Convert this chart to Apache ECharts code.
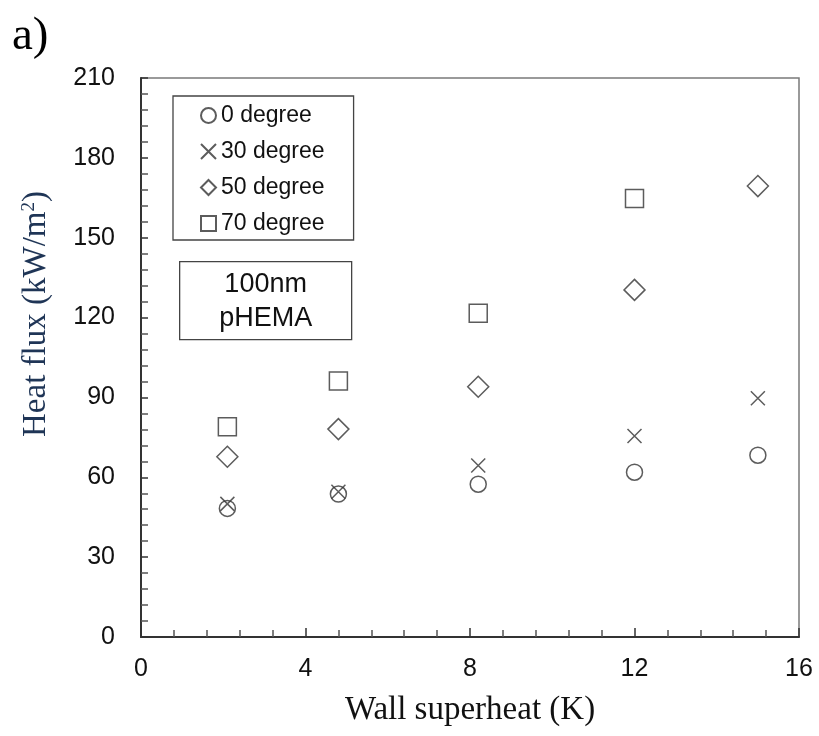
<!DOCTYPE html>
<html>
<head>
<meta charset="utf-8">
<script src="https://cdn.jsdelivr.net/npm/echarts@6/dist/echarts.min.js"></script>
<style>
  html, body { margin: 0; padding: 0; background: #fff; }
  #chart { width: 819px; height: 736px; }
</style>
</head>
<body>
<div id="chart"></div>
<script>
// Wall superheat (K) at each measurement
const superheat = [2.1, 4.8, 8.2, 12, 15];

// Heat flux (kW/m2) for each inclination angle
const flux0 = [48.3, 53.7, 57.4, 61.9, 68.3];
const flux30 = [50.0, 54.6, 64.4, 75.5, 89.7];
const flux50 = [67.7, 78.1, 94.0, 130.4, 169.4];
const flux70 = [79.0, 96.2, 121.6, 164.7];

const seriesNames = ['0 degree', '30 degree', '50 degree', '70 degree'];
const yTicks = [0, 30, 60, 90, 120, 150, 180, 210];
const xTicks = [0, 4, 8, 12, 16];

const pairs = (xs, ys) => ys.map((y, i) => [xs[i], y]);

const ink = '#333';
const crossPath = 'path://M0,0L10,10M10,0L0,10';

function hollow(name, data, symbol, size) {
  return {
    name: name,
    type: 'scatter',
    data: data,
    symbol: symbol,
    symbolSize: size,
    itemStyle: { color: 'rgba(255,255,255,0)', borderColor: ink, borderWidth: 1.5 },
    emphasis: { disabled: true },
    z: 3
  };
}

const chart = echarts.init(document.getElementById('chart'), null, { renderer: 'canvas' });

chart.setOption({
  animation: false,
  backgroundColor: '#fff',
  grid: {
    left: 141, right: 20, top: 78, bottom: 99,
    show: true, borderColor: '#7a7a7a', borderWidth: 1.5, backgroundColor: '#fff'
  },
  xAxis: {
    type: 'value',
    min: xTicks[0], max: xTicks[xTicks.length - 1], interval: 4,
    name: 'Wall superheat (K)',
    nameLocation: 'middle',
    nameGap: 57,
    nameTextStyle: { fontFamily: 'Liberation Serif', fontSize: 33, color: '#111' },
    axisLine: { show: true, lineStyle: { color: '#333', width: 2 } },
    axisTick: { show: true, inside: true, length: 9, lineStyle: { color: '#333', width: 1.5 } },
    minorTick: { show: true, splitNumber: 5, length: 7, lineStyle: { color: '#555', width: 1.5 } },
    axisLabel: { fontFamily: 'Liberation Sans', fontSize: 25, color: '#111', margin: 20 },
    splitLine: { show: false }
  },
  yAxis: {
    type: 'value',
    min: yTicks[0], max: yTicks[yTicks.length - 1], interval: 30,
    axisLine: { show: true, lineStyle: { color: '#333', width: 2 } },
    axisTick: { show: true, inside: true, length: 7, lineStyle: { color: '#333', width: 1.5 } },
    minorTick: { show: true, splitNumber: 5, length: 7, lineStyle: { color: '#555', width: 1.5 } },
    axisLabel: { fontFamily: 'Liberation Sans', fontSize: 25, color: '#111', margin: 26 },
    splitLine: { show: false }
  },
  legend: {
    orient: 'vertical',
    left: 173, top: 96,
    padding: [8, 29, 5, 27],
    itemGap: 13,
    itemWidth: 15, itemHeight: 15,
    itemTextGap: 5,
    borderColor: '#444', borderWidth: 1.3,
    backgroundColor: '#fff',
    selectedMode: false,
    textStyle: { fontFamily: 'Liberation Sans', fontSize: 23, color: '#111' },
    data: seriesNames
  },
  graphic: [
    {
      type: 'text', left: 12, top: 13,
      style: { text: 'a)', font: '47px "Liberation Serif"', fill: '#000' }
    },
    {
      type: 'text',
      x: 36, y: 314,
      rotation: Math.PI / 2,
      style: {
        text: '{t|Heat flux (kW/m}{s|2}{t|)}',
        align: 'center', verticalAlign: 'middle',
        rich: {
          t: { fontFamily: 'Liberation Serif', fontSize: 33, fill: '#1f3556' },
          s: { fontFamily: 'Liberation Serif', fontSize: 19, fill: '#1f3556', verticalAlign: 'top', padding: [0, 0, 12, 0] }
        }
      }
    },
    {
      type: 'group', left: 179, top: 261,
      children: [
        {
          type: 'rect', shape: { x: 0, y: 0, width: 172, height: 78 },
          style: { fill: '#fff', stroke: '#444', lineWidth: 1.3 }
        },
        {
          type: 'text', x: 86, y: 23,
          style: { text: '100nm', font: '27px "Liberation Sans"', fill: '#111', align: 'center', verticalAlign: 'middle' }
        },
        {
          type: 'text', x: 86, y: 57,
          style: { text: 'pHEMA', font: '27px "Liberation Sans"', fill: '#111', align: 'center', verticalAlign: 'middle' }
        }
      ]
    }
  ],
  series: [
    hollow(seriesNames[0], pairs(superheat, flux0), 'circle', 16),
    hollow(seriesNames[1], pairs(superheat, flux30), crossPath, 14),
    hollow(seriesNames[2], pairs(superheat, flux50), 'diamond', [21, 21]),
    hollow(seriesNames[3], pairs(superheat, flux70), 'rect', 18)
  ]
});
</script>
</body>
</html>
